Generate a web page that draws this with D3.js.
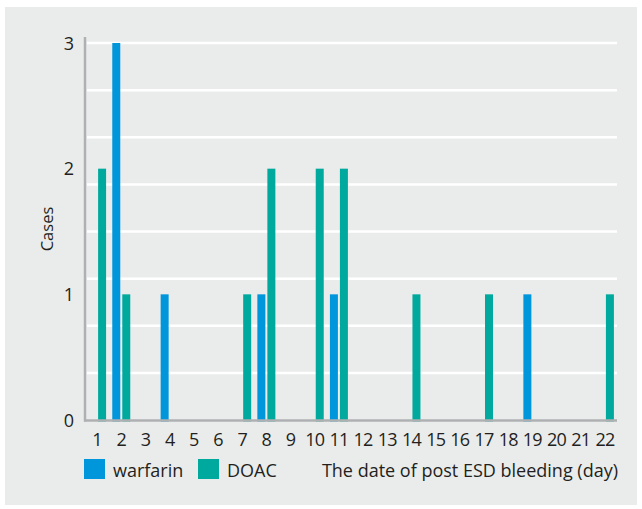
<!DOCTYPE html>
<html>
<head>
<meta charset="utf-8">
<script src="https://cdn.jsdelivr.net/npm/d3@7"></script>
<style>
  body { margin: 0; background: #fff; }
  svg text { font-family: "Open Sans", "Noto Sans", sans-serif; fill: #231f20; }
</style>
</head>
<body>
<div id="grafico"></div>
<script>
const dias = ["1", "2", "3", "4", "5", "6", "7", "8", "9", "10", "11", "12", "13", "14", "15", "16", "17", "18", "19", "20", "21", "22"];
const warfarin = [0, 3, 0, 1, 0, 0, 0, 1, 0, 0, 1, 0, 0, 0, 0, 0, 0, 0, 1, 0, 0, 0];
const doac = [2, 1, 0, 0, 0, 0, 1, 2, 0, 2, 2, 0, 0, 1, 0, 0, 1, 0, 0, 0, 0, 1];
const series = ["warfarin", "DOAC"];
const cores = { warfarin: "#0096db", DOAC: "#00a99d" };
const yTicks = [0, 1, 2, 3];

const largura = 642, altura = 509;

const svg = d3.select("#grafico")
  .append("svg")
  .attr("width", largura)
  .attr("height", altura);

// painel cinza
svg.append("rect")
  .attr("x", 5)
  .attr("y", 7)
  .attr("width", 632)
  .attr("height", 498)
  .attr("fill", "#eaecec");

const x = d3.scaleBand().domain(dias).range([85, 617]).padding(0);
const xSub = d3.scaleBand().domain(series).range([-9, 9]).paddingInner(0.2);
const y = d3.scaleLinear().domain([0, 3]).range([420, 43]);

// linhas de grade a cada 3/8
const grade = d3.range(1, 9).map(i => i * 3 / 8);
svg.selectAll("line.grade")
  .data(grade)
  .enter()
  .append("line")
  .attr("class", "grade")
  .attr("x1", 87)
  .attr("x2", 617)
  .attr("y1", d => y(d))
  .attr("y2", d => y(d))
  .attr("stroke", "#fff")
  .attr("stroke-width", 2.5);

const dados = [];
dias.forEach((d, i) => {
  dados.push({ dia: d, serie: "warfarin", valor: warfarin[i] });
  dados.push({ dia: d, serie: "DOAC", valor: doac[i] });
});

svg.selectAll("rect.barra")
  .data(dados.filter(d => d.valor > 0))
  .enter()
  .append("rect")
  .attr("class", "barra")
  .attr("x", d => x(d.dia) + x.bandwidth() / 2 + xSub(d.serie))
  .attr("y", d => y(d.valor))
  .attr("width", xSub.bandwidth())
  .attr("height", d => y(0) - y(d.valor) + 1.5)
  .attr("fill", d => cores[d.serie]);

// eixos
svg.append("line")
  .attr("x1", 85).attr("x2", 85)
  .attr("y1", 37).attr("y2", 421.5)
  .attr("stroke", "#aeb0b2")
  .attr("stroke-width", 2.5);

svg.append("line")
  .attr("x1", 84).attr("x2", 617)
  .attr("y1", 420.5).attr("y2", 420.5)
  .attr("stroke", "#aeb0b2")
  .attr("stroke-width", 2.5);

svg.selectAll("text.ytick")
  .data(yTicks)
  .enter()
  .append("text")
  .attr("class", "ytick")
  .attr("x", 74)
  .attr("y", d => y(d) + 6.5)
  .attr("text-anchor", "end")
  .attr("font-size", "18px")
  .text(d => d);

svg.selectAll("text.xtick")
  .data(dias)
  .enter()
  .append("text")
  .attr("class", "xtick")
  .attr("x", d => x(d) + x.bandwidth() / 2)
  .attr("y", 446)
  .attr("text-anchor", "middle")
  .attr("font-size", "18px")
  .attr("letter-spacing", "-0.8px")
  .text(d => d);

svg.append("text")
  .attr("transform", "translate(53,229) rotate(-90)")
  .attr("text-anchor", "middle")
  .attr("font-size", "16.5px")
  .text("Cases");

// legenda
const legenda = svg.selectAll("g.legenda")
  .data(series)
  .enter()
  .append("g")
  .attr("class", "legenda")
  .attr("transform", (d, i) => `translate(${84 + i * 114},459)`);

legenda.append("rect")
  .attr("width", 21)
  .attr("height", 20)
  .attr("fill", d => cores[d]);

legenda.append("text")
  .attr("x", 29)
  .attr("y", 17.5)
  .attr("font-size", "18px")
  .text(d => d);

svg.append("text")
  .attr("x", 618)
  .attr("y", 477)
  .attr("text-anchor", "end")
  .attr("font-size", "18px")
  .text("The date of post ESD bleeding (day)");
</script>
</body>
</html>
